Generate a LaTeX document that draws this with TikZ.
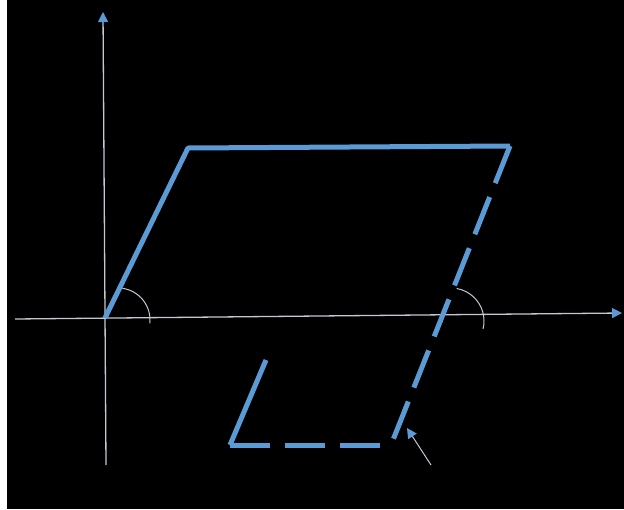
\documentclass[tikz,border=0pt]{standalone}
\usetikzlibrary{arrows.meta}
\definecolor{pblue}{HTML}{5B9BD5}
\definecolor{axgray}{HTML}{C4C8D0}
\begin{document}
\begin{tikzpicture}[x=1pt,y=-1pt,
  thickline/.style={pblue,line width=5pt,line join=round},
  dashline/.style={pblue,line width=5pt,dash pattern=on 40pt off 15pt},
  axis/.style={axgray,line width=1.3pt,-{Triangle[length=10pt,width=10pt,color=pblue,fill=pblue]}},
  anglearc/.style={axgray,line width=1pt}]
\useasboundingbox (0,0) rectangle (624,509);
\fill[white] (0,0) rectangle (7,509);
\fill[black] (7,0) rectangle (624,509);
% axes
\coordinate (xa) at (15,319);
\coordinate (xb) at (622,313);
\coordinate (ya) at (106,465);
\coordinate (yb) at (103,12);
\draw[axis] (xa) -- (xb);
\draw[axis] (ya) -- (yb);
% parallelogram
\coordinate (O) at (105,318);
\coordinate (P) at (188,148);
\coordinate (Q) at (510,146);
\coordinate (R) at (391,445);
\coordinate (S) at (230,445);
\coordinate (T) at (266,360);
\draw[thickline] (O) -- (P) -- (Q);
\draw[dashline] (Q) -- (R);
\draw[dashline] (S) -- (R);
\draw[thickline] (T) -- (S);
% angle arcs
\draw[anglearc] (118,320) ++(6:32) arc[start angle=6,end angle=-82,radius=32];
\draw[anglearc] (451,321) ++(14:33) arc[start angle=14,end angle=-80,radius=33];
% pointer arrow
\coordinate (pa) at (431,465);
\coordinate (pb) at (407,428);
\draw[axgray,line width=1pt,-{Triangle[length=10pt,width=10pt,color=pblue,fill=pblue]}] (pa) -- (pb);
\end{tikzpicture}
\end{document}
